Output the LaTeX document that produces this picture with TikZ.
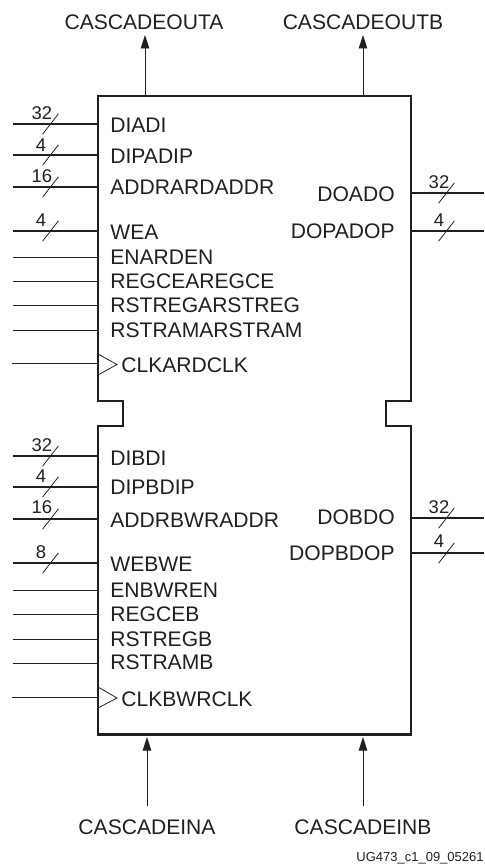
\documentclass[tikz,border=0pt]{standalone}
\usepackage{fontspec}
\setmainfont{Liberation Sans}
\usetikzlibrary{arrows.meta,shapes.misc}
\definecolor{ink}{HTML}{231F20}

\begin{document}
\begin{tikzpicture}[x = 0.02cm, y = -0.02cm, color = ink]

  \tikzstyle{sig} = [anchor = west, inner sep = 0pt, font = \fontsize{12}{12}\selectfont]
  \tikzstyle{sigr} = [anchor = east, inner sep = 0pt, font = \fontsize{12}{12}\selectfont]
  \tikzstyle{casc} = [inner sep = 0pt, font = \fontsize{12}{12}\selectfont]
  \tikzstyle{width} = [inner sep = 0pt, font = \fontsize{10.5}{10.5}\selectfont]
  \tikzstyle{slash} = [strike out, draw, line width = 0.45pt, inner sep = 0pt, minimum width = 0.3cm, minimum height = 0.39cm]
  \tikzstyle{bus} = [line width = 1.6pt]
  \tikzstyle{wire} = [line width = 0.45pt]
  \tikzstyle{casw} = [line width = 0.5pt, {Triangle[length = 0.27cm, width = 0.17cm]}-]

    \useasboundingbox (0,0) rectangle (484,865);

    % the block, with its two notches
    \coordinate (boxl) at (98,96);
    \coordinate (boxr) at (411,734);
    \draw[line width = 1.7pt, line join = miter] (boxl) -- (411,96) -- (411,401) -- (386,401) -- (386,426)
      -- (411,426) -- (boxr) -- (98,734) -- (98,426) -- (123,426) -- (123,401) -- (98,401) -- cycle;

    % cascade ports
    \node[casc] (outa) at (144,22) {CASCADEOUTA};
    \coordinate (outatip) at (145,35) edge[casw] (outatip |- boxl);
    \node[casc] (outb) at (363,22) {CASCADEOUTB};
    \coordinate (outbtip) at (363,35) edge[casw] (outbtip |- boxl);
    \node[casc] (ina) at (147,827) {CASCADEINA};
    \coordinate (inatip) at (147,737) edge[casw] (147,806);
    \node[casc] (inb) at (363,827) {CASCADEINB};
    \coordinate (inbtip) at (363,737) edge[casw] (363,806);

    % port A, left side
    \node[sig] (diadi) at (110,125) {DIADI};
    \coordinate (diadiin) at (13,124) edge[bus] (diadiin -| boxl);
    \node[slash] (diadis) at (50.5,124) {};
    \node[width] (diadiw) at (42,113) {32};
    \node[sig] (dipadip) at (110,156) {DIPADIP};
    \coordinate (dipadipin) at (13,155) edge[bus] (dipadipin -| boxl);
    \node[slash] (dipadips) at (50.5,155) {};
    \node[width] (dipadipw) at (41,145) {4};
    \node[sig] (addra) at (110,187) {ADDRARDADDR};
    \coordinate (addrain) at (13,187) edge[bus] (addrain -| boxl);
    \node[slash] (addras) at (50.5,187) {};
    \node[width] (addraw) at (42,176) {16};
    \node[sig] (wea) at (110,232) {WEA};
    \coordinate (weain) at (13,231) edge[bus] (weain -| boxl);
    \node[slash] (weas) at (50.5,231) {};
    \node[width] (weaw) at (41,220) {4};
    \node[sig] (enarden) at (110,257) {ENARDEN};
    \coordinate (enardenin) at (13,257) edge[wire] (enardenin -| boxl);
    \node[sig] (regcea) at (110,281) {REGCEAREGCE};
    \coordinate (regceain) at (13,281) edge[wire] (regceain -| boxl);
    \node[sig] (rstrega) at (110,305) {RSTREGARSTREG};
    \coordinate (rstregain) at (13,305) edge[wire] (rstregain -| boxl);
    \node[sig] (rstrama) at (110,330) {RSTRAMARSTRAM};
    \coordinate (rstramain) at (13,330) edge[wire] (rstramain -| boxl);
    \node[sig] (clka) at (121,365) {CLKARDCLK};
    \coordinate (clkain) at (12,363) edge[wire] (clkain -| boxl);
    \draw[wire] (98,354) -- (117,364.5) -- (98,375);

    % port A, right side
    \node[sigr] (doado) at (395,194) {DOADO};
    \coordinate (doaout) at (484,193) edge[bus] (doaout -| boxr);
    \node[slash] (doas) at (446.5,193) {};
    \node[width] (doaw) at (439,182) {32};
    \node[sigr] (dopadop) at (395,231) {DOPADOP};
    \coordinate (dopaout) at (484,231) edge[bus] (dopaout -| boxr);
    \node[slash] (dopas) at (446.5,231) {};
    \node[width] (dopaw) at (439,220) {4};

    % port B, left side
    \node[sig] (dibdi) at (110,458) {DIBDI};
    \coordinate (dibdiin) at (13,456) edge[bus] (dibdiin -| boxl);
    \node[slash] (dibdis) at (50.5,456) {};
    \node[width] (dibdiw) at (42,445) {32};
    \node[sig] (dipbdip) at (110,487) {DIPBDIP};
    \coordinate (dipbdipin) at (13,487) edge[bus] (dipbdipin -| boxl);
    \node[slash] (dipbdips) at (50.5,487) {};
    \node[width] (dipbdipw) at (41,476) {4};
    \node[sig] (addrb) at (110,520) {ADDRBWRADDR};
    \coordinate (addrbin) at (13,519) edge[bus] (addrbin -| boxl);
    \node[slash] (addrbs) at (50.5,519) {};
    \node[width] (addrbw) at (42,507) {16};
    \node[sig] (webwe) at (110,564) {WEBWE};
    \coordinate (webwein) at (13,563) edge[bus] (webwein -| boxl);
    \node[slash] (webwes) at (50.5,563) {};
    \node[width] (webwew) at (41,552) {8};
    \node[sig] (enbwren) at (110,590) {ENBWREN};
    \coordinate (enbwrenin) at (13,590) edge[wire] (enbwrenin -| boxl);
    \node[sig] (regceb) at (110,614) {REGCEB};
    \coordinate (regcebin) at (13,614) edge[wire] (regcebin -| boxl);
    \node[sig] (rstregb) at (110,639) {RSTREGB};
    \coordinate (rstregbin) at (13,639) edge[wire] (rstregbin -| boxl);
    \node[sig] (rstramb) at (110,662) {RSTRAMB};
    \coordinate (rstrambin) at (13,663) edge[wire] (rstrambin -| boxl);
    \node[sig] (clkb) at (121,699) {CLKBWRCLK};
    \coordinate (clkbin) at (12,697) edge[wire] (clkbin -| boxl);
    \draw[wire] (98,687) -- (117,698) -- (98,708);

    % port B, right side
    \node[sigr] (dobdo) at (395,517) {DOBDO};
    \coordinate (dobout) at (484,518) edge[bus] (dobout -| boxr);
    \node[slash] (dobs) at (446.5,518) {};
    \node[width] (dobw) at (439,507) {32};
    \node[sigr] (dopbdop) at (395,553) {DOPBDOP};
    \coordinate (dopbout) at (484,553) edge[bus] (dopbout -| boxr);
    \node[slash] (dopbs) at (446.5,553) {};
    \node[width] (dopbw) at (439,541) {4};

    \node[anchor = east, inner sep = 0pt, font = \fontsize{7.4}{7.4}\selectfont] (fig) at (484,858) {UG473\_c1\_09\_05261};
\end{tikzpicture}
\end{document}
